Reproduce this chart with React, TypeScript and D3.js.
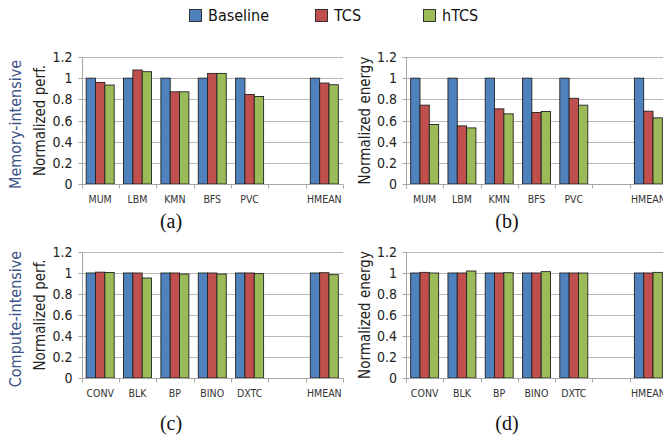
import { useEffect, useRef } from 'react'
import * as d3 from 'd3'

const seriesNames = ['Baseline', 'TCS', 'hTCS']
const seriesColors = ['#4f81bd', '#c0504d', '#9bbb59']

const memCategories = ['MUM', 'LBM', 'KMN', 'BFS', 'PVC', '', 'HMEAN']
const compCategories = ['CONV', 'BLK', 'BP', 'BINO', 'DXTC', '', 'HMEAN']

// null = empty slot
const memPerf = [
  [1, 0.96, 0.935],
  [1, 1.077, 1.061],
  [1, 0.871, 0.871],
  [1, 1.045, 1.045],
  [1, 0.846, 0.827],
  null,
  [1, 0.954, 0.938]
]
const memEnergy = [
  [1, 0.745, 0.562],
  [1, 0.549, 0.53],
  [1, 0.71, 0.663],
  [1, 0.676, 0.685],
  [1, 0.81, 0.745],
  null,
  [1, 0.688, 0.625]
]
const compPerf = [
  [1, 1.008, 1.005],
  [1, 1.0, 0.952],
  [1, 1.0, 0.99],
  [1, 1.0, 0.99],
  [1, 1.0, 0.994],
  null,
  [1, 1.003, 0.984]
]
const compEnergy = [
  [1, 1.006, 1.0],
  [1, 1.0, 1.019],
  [1, 1.0, 1.003],
  [1, 1.0, 1.013],
  [1, 1.0, 1.0],
  null,
  [1, 1.0, 1.006]
]

const yTicks = [0, 0.2, 0.4, 0.6, 0.8, 1, 1.2]

const sansFont = '"DejaVu Sans Condensed", "DejaVu Sans", sans-serif'

const App = () => {
  const svgRef = useRef()

  useEffect(() => {
    const root = d3.select(svgRef.current)
    root.selectAll('*').remove()

    const drawPanel = (id, cfg) => {
      const { left, right, top, bottom, clipRight, cats, values, yTitle, yTitleX } = cfg

      root.append('clipPath')
        .attr('id', id)
        .append('rect')
        .attr('x', 0)
        .attr('y', 0)
        .attr('width', clipRight)
        .attr('height', 441)

      const g = root.append('g').attr('clip-path', `url(#${id})`)

      const x = d3.scaleBand()
        .domain(d3.range(cats.length))
        .range([left, right])

      const xInner = d3.scaleBand()
        .domain(d3.range(seriesNames.length))
        .range([0, x.bandwidth()])
        .paddingOuter(0.5)
        .paddingInner(0)

      const y = d3.scaleLinear()
        .domain([0, 1.2])
        .range([bottom, top])

      // gridlines
      g.selectAll('.grid')
        .data(yTicks.filter(t => t > 0))
        .enter()
        .append('line')
        .attr('x1', left)
        .attr('x2', right)
        .attr('y1', d => Math.round(y(d)) + 0.5)
        .attr('y2', d => Math.round(y(d)) + 0.5)
        .attr('stroke', '#b8b8b8')
        .attr('stroke-width', 1)

      // bars
      values.forEach((vals, i) => {
        if (!vals) return
        vals.forEach((v, j) => {
          g.append('rect')
            .attr('x', x(i) + xInner(j))
            .attr('y', y(v))
            .attr('width', xInner.bandwidth())
            .attr('height', y(0) - y(v))
            .attr('fill', seriesColors[j])
            .attr('stroke', '#222')
            .attr('stroke-width', 0.9)
        })
      })

      // x axis line with ticks at band boundaries
      const y0 = Math.round(y(0)) + 0.5
      g.append('line')
        .attr('x1', left)
        .attr('x2', right)
        .attr('y1', y0)
        .attr('y2', y0)
        .attr('stroke', '#a6a6a6')
      g.selectAll('.xtick')
        .data(d3.range(cats.length + 1))
        .enter()
        .append('line')
        .attr('x1', d => Math.round(left + d * x.step()) + 0.5)
        .attr('x2', d => Math.round(left + d * x.step()) + 0.5)
        .attr('y1', y0)
        .attr('y2', y0 + 4)
        .attr('stroke', '#a6a6a6')

      g.selectAll('.xlab')
        .data(cats)
        .enter()
        .append('text')
        .attr('x', (d, i) => x(i) + x.bandwidth() / 2)
        .attr('y', bottom + 19)
        .attr('text-anchor', 'middle')
        .attr('font-family', sansFont)
        .attr('font-size', 10.5)
        .attr('fill', '#333')
        .text(d => d)

      // y axis
      const xa = Math.round(left) + 0.5
      g.append('line')
        .attr('x1', xa)
        .attr('x2', xa)
        .attr('y1', y(1.2))
        .attr('y2', y(0))
        .attr('stroke', '#a6a6a6')
      g.selectAll('.ytick')
        .data(yTicks)
        .enter()
        .append('line')
        .attr('x1', xa - 4)
        .attr('x2', xa)
        .attr('y1', d => Math.round(y(d)) + 0.5)
        .attr('y2', d => Math.round(y(d)) + 0.5)
        .attr('stroke', '#a6a6a6')
      g.selectAll('.ylab')
        .data(yTicks)
        .enter()
        .append('text')
        .attr('x', left - 9)
        .attr('y', d => y(d))
        .attr('dy', '0.36em')
        .attr('text-anchor', 'end')
        .attr('font-family', sansFont)
        .attr('font-size', 14)
        .attr('fill', '#222')
        .text(d => d3.format('~g')(d))

      root.append('text')
        .attr('transform', `translate(${yTitleX},${(top + bottom) / 2}) rotate(-90)`)
        .attr('text-anchor', 'middle')
        .attr('dy', '0.35em')
        .attr('font-family', sansFont)
        .attr('font-size', 15)
        .attr('fill', '#222')
        .text(yTitle)
    }

    const rows = [
      { top: 57, bottom: 184, cap: ['(a)', '(b)'], capY: 228, cats: memCategories, data: [memPerf, memEnergy], rowLabel: 'Memory-intensive' },
      { top: 252, bottom: 378, cap: ['(c)', '(d)'], capY: 430, cats: compCategories, data: [compPerf, compEnergy], rowLabel: 'Compute-intensive' }
    ]

    rows.forEach((r, ri) => {
      drawPanel(`clip-${ri}-0`, {
        left: 81.5, right: 343, top: r.top, bottom: r.bottom, clipRight: 345,
        cats: r.cats, values: r.data[0], yTitle: 'Normalized perf.', yTitleX: 40
      })
      drawPanel(`clip-${ri}-1`, {
        left: 406, right: 667, top: r.top, bottom: r.bottom, clipRight: 663,
        cats: r.cats, values: r.data[1], yTitle: 'Normalized energy', yTitleX: 365
      })

      root.append('text')
        .attr('transform', `translate(15,${(r.top + r.bottom) / 2 + 4}) rotate(-90)`)
        .attr('text-anchor', 'middle')
        .attr('dy', '0.35em')
        .attr('font-family', sansFont)
        .attr('font-size', 16)
        .attr('fill', '#3c5488')
        .text(r.rowLabel)

      r.cap.forEach((c, ci) => {
        root.append('text')
          .attr('x', ci === 0 ? 171 : 507)
          .attr('y', r.capY)
          .attr('text-anchor', 'middle')
          .attr('font-family', '"Liberation Serif", serif')
          .attr('font-size', 20)
          .attr('fill', '#111')
          .text(c)
      })
    })

    // legend
    const legendX = [189, 315, 423]
    const legend = root.append('g')
    seriesNames.forEach((name, i) => {
      legend.append('rect')
        .attr('x', legendX[i] + 0.5)
        .attr('y', 9.5)
        .attr('width', 12)
        .attr('height', 12)
        .attr('fill', seriesColors[i])
        .attr('stroke', '#222')
        .attr('stroke-width', 0.9)
      legend.append('text')
        .attr('x', legendX[i] + 19)
        .attr('y', 15.5)
        .attr('dy', '0.36em')
        .attr('font-family', sansFont)
        .attr('font-size', 16)
        .attr('fill', '#111')
        .text(name)
    })
  }, [])

  return (
    <svg
      ref={svgRef}
      width={663}
      height={441}
      style={{ position: 'absolute', left: 0, top: 0, background: '#fff' }}
    ></svg>
  )
}

export default App
